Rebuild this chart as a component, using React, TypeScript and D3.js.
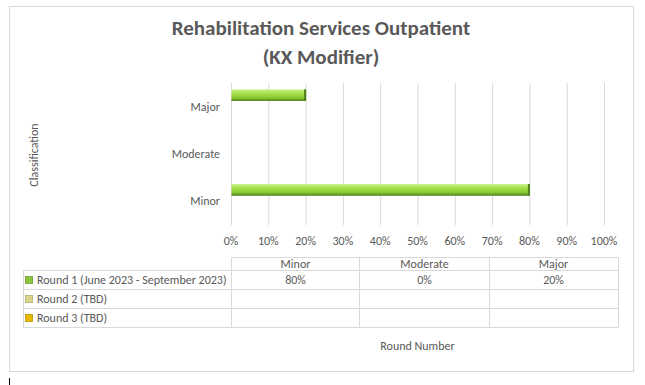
import React from "react";
import * as d3 from "d3";

const categories = ["Minor", "Moderate", "Major"];
const seriesNames = ["Round 1 (June 2023 - September 2023)", "Round 2 (TBD)", "Round 3 (TBD)"];
const round1Values: (number | null)[] = [0.8, 0, 0.2];
const round2Values: (number | null)[] = [null, null, null];
const round3Values: (number | null)[] = [null, null, null];
const seriesValues = [round1Values, round2Values, round3Values];
const seriesColors = ["#8cc63f", "#d9d58a", "#e6b800"];
const xTicks = [0, 0.1, 0.2, 0.3, 0.4, 0.5, 0.6, 0.7, 0.8, 0.9, 1.0];
const titleLines = ["Rehabilitation Services Outpatient", "(KX Modifier)"];

const FONT = "Carlito, 'Liberation Sans Narrow', 'Open Sans', sans-serif";
const TXT = "#595959";
const GRID = "#d9d9d9";

export default function App() {
  const x = d3.scaleLinear().domain([0, 1]).range([231, 604]);
  const y = d3.scaleBand<string>().domain([...categories].reverse()).range([83, 225]);
  const bw = y.bandwidth();
  const inner = d3.scaleBand<string>().domain(seriesNames).range([bw * 0.135, bw * 0.865]);
  const fmt = d3.format(".0%");

  const cols = d3.scaleBand<string>().domain(categories).range([231, 618]);
  const rowY = d3.scaleBand<string>().domain(seriesNames).range([270.5, 327.5]);

  return (
    <svg width={645} height={385} style={{ position: "absolute", left: 0, top: 0 }} fontFamily={FONT}>
      <defs>
        <linearGradient id="g1" x1="0" y1="0" x2="0" y2="1">
          <stop offset="0" stopColor="#c8f08a" />
          <stop offset="0.35" stopColor="#a4e04a" />
          <stop offset="0.7" stopColor="#8ccb35" />
          <stop offset="1" stopColor="#5e9220" />
        </linearGradient>
      </defs>
      <rect x={9.5} y={6.5} width={624} height={365} fill="#fff" stroke={GRID} />
      {titleLines.map((t, i) => (
        <text key={t} x={321} y={35 + i * 29} textAnchor="middle" fontSize={21} fontWeight="bold" fill={TXT}>
          {t}
        </text>
      ))}
      {xTicks.map((t) => (
        <g key={t}>
          <line x1={x(t) + 0.5} x2={x(t) + 0.5} y1={83} y2={225} stroke={GRID} />
          <text x={x(t)} y={245} textAnchor="middle" fontSize={12} fill={TXT}>
            {fmt(t)}
          </text>
        </g>
      ))}
      {categories.map((c) => (
        <text key={c} x={220} y={(y(c) as number) + bw / 2 + 4} textAnchor="end" fontSize={12} fill={TXT}>
          {c}
        </text>
      ))}
      {seriesNames.map((s, si) =>
        categories.map((c, ci) => {
          const v = seriesValues[si][ci];
          if (v == null || v <= 0) return null;
          const by = (y(c) as number) + (inner(s) as number);
          const h = inner.bandwidth();
          const w = x(v) - x(0);
          return (
            <g key={s + c}>
              <rect x={x(0) + 0.5} y={by} width={w} height={h} fill="url(#g1)" />
              <rect x={x(0) + 0.5 + w - 2} y={by} width={2} height={h} fill="#4f7f1a" />
              <rect x={x(0) + 0.5} y={by + h - 1} width={w} height={1} fill="#5a8a22" />
            </g>
          );
        })
      )}
      <text transform="translate(38,155) rotate(-90)" textAnchor="middle" fontSize={12} fill={TXT}>
        Classification
      </text>
      {/* data table */}
      <g stroke={GRID} fill="none">
        <line x1={231} x2={618} y1={257.5} y2={257.5} />
        {[270.5, 289.5, 308.5, 327.5].map((yy) => (
          <line key={yy} x1={23} x2={618} y1={yy} y2={yy} />
        ))}
        {[231, 359, 489, 618].map((xx) => (
          <line key={xx} x1={xx + 0.5} x2={xx + 0.5} y1={257.5} y2={327.5} />
        ))}
        <line x1={23.5} x2={23.5} y1={270.5} y2={327.5} />
      </g>
      {categories.map((c) => (
        <text key={c} x={(cols(c) as number) + cols.bandwidth() / 2} y={268} textAnchor="middle" fontSize={12} fill={TXT}>
          {c}
        </text>
      ))}
      {seriesNames.map((s, si) => {
        const ry = (rowY(s) as number) + rowY.bandwidth() / 2;
        return (
          <g key={s}>
            <rect x={25.5} y={ry - 3.5} width={7} height={7} fill={seriesColors[si]} stroke={d3.color(seriesColors[si])!.darker(0.6).toString()} strokeWidth={0.8} />
            <text x={37} y={ry + 4} fontSize={12} fill={TXT}>
              {s}
            </text>
            {categories.map((c, ci) => {
              const v = seriesValues[si][ci];
              return v == null ? null : (
                <text key={c} x={(cols(c) as number) + cols.bandwidth() / 2} y={ry + 4} textAnchor="middle" fontSize={12} fill={TXT}>
                  {fmt(v)}
                </text>
              );
            })}
          </g>
        );
      })}
      <text x={417.5} y={350} textAnchor="middle" fontSize={12} fill={TXT}>
        Round Number
      </text>
      <line x1={9.5} x2={9.5} y1={378} y2={385} stroke="#000" />
    </svg>
  );
}
